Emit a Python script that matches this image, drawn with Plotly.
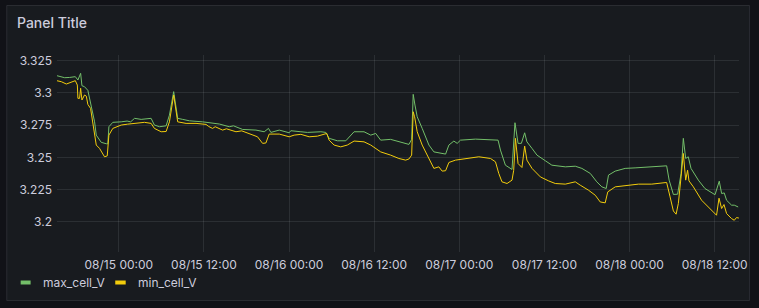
import plotly.graph_objects as go

# ---------------- data ----------------
max_t = [
    "2023-08-14 15:14", "2023-08-14 15:54", "2023-08-14 16:22", "2023-08-14 17:04", "2023-08-14 17:52",
    "2023-08-14 18:14", "2023-08-14 18:37", "2023-08-14 18:48", "2023-08-14 19:10", "2023-08-14 19:38",
    "2023-08-14 20:01", "2023-08-14 20:20", "2023-08-14 20:35", "2023-08-14 20:49", "2023-08-14 21:09",
    "2023-08-14 21:31", "2023-08-14 22:14", "2023-08-14 22:27", "2023-08-14 22:36", "2023-08-14 23:09",
    "2023-08-15 00:20", "2023-08-15 01:10", "2023-08-15 01:40", "2023-08-15 02:13", "2023-08-15 03:09",
    "2023-08-15 03:50", "2023-08-15 04:33", "2023-08-15 05:01", "2023-08-15 05:44", "2023-08-15 06:40",
    "2023-08-15 07:08", "2023-08-15 07:44", "2023-08-15 08:18", "2023-08-15 09:00", "2023-08-15 09:57",
    "2023-08-15 11:49", "2023-08-15 12:46", "2023-08-15 14:10", "2023-08-15 15:34", "2023-08-15 16:10",
    "2023-08-15 17:27", "2023-08-15 19:20", "2023-08-15 20:30", "2023-08-15 21:06", "2023-08-15 21:26",
    "2023-08-15 22:37", "2023-08-16 00:01", "2023-08-16 00:15", "2023-08-16 01:40", "2023-08-16 02:35",
    "2023-08-16 04:29", "2023-08-16 05:11", "2023-08-16 05:39", "2023-08-16 06:49", "2023-08-16 08:00",
    "2023-08-16 09:10", "2023-08-16 10:34", "2023-08-16 11:31", "2023-08-16 12:13", "2023-08-16 12:55",
    "2023-08-16 14:19", "2023-08-16 15:29", "2023-08-16 16:12", "2023-08-16 16:54", "2023-08-16 17:17",
    "2023-08-16 17:30", "2023-08-16 17:45", "2023-08-16 18:04", "2023-08-16 18:46", "2023-08-16 19:43",
    "2023-08-16 20:25", "2023-08-16 21:35", "2023-08-16 22:04", "2023-08-16 22:32", "2023-08-16 23:14",
    "2023-08-16 23:42", "2023-08-17 00:10", "2023-08-17 02:17", "2023-08-17 05:19", "2023-08-17 05:28",
    "2023-08-17 05:48", "2023-08-17 06:30", "2023-08-17 07:26", "2023-08-17 07:40", "2023-08-17 07:51",
    "2023-08-17 08:17", "2023-08-17 08:45", "2023-08-17 09:13", "2023-08-17 09:32", "2023-08-17 10:15",
    "2023-08-17 10:57", "2023-08-17 12:08", "2023-08-17 13:03", "2023-08-17 14:57", "2023-08-17 16:21",
    "2023-08-17 17:17", "2023-08-17 18:28", "2023-08-17 19:23", "2023-08-17 20:06", "2023-08-17 20:43",
    "2023-08-17 21:02", "2023-08-17 21:59", "2023-08-17 23:23", "2023-08-18 00:47", "2023-08-18 03:08",
    "2023-08-18 05:14", "2023-08-18 05:35", "2023-08-18 06:11", "2023-08-18 06:47", "2023-08-18 07:16",
    "2023-08-18 07:35", "2023-08-18 07:55", "2023-08-18 08:17", "2023-08-18 08:40", "2023-08-18 09:42",
    "2023-08-18 10:38", "2023-08-18 12:03", "2023-08-18 12:39", "2023-08-18 12:59", "2023-08-18 13:21",
    "2023-08-18 13:41", "2023-08-18 14:23", "2023-08-18 14:46", "2023-08-18 15:19",
]
max_v = [
    3.3134, 3.3125, 3.3118, 3.3120, 3.3126,
    3.3100, 3.3152, 3.3056, 3.3048, 3.3020,
    3.2930, 3.2854, 3.2776, 3.2673, 3.2648,
    3.2617, 3.2606, 3.2606, 3.2738, 3.2772,
    3.2776, 3.2782, 3.2776, 3.2803, 3.2795,
    3.2800, 3.2803, 3.2751, 3.2738, 3.2745,
    3.2828, 3.3010, 3.2803, 3.2795, 3.2784,
    3.2776, 3.2769, 3.2759, 3.2738, 3.2745,
    3.2717, 3.2712, 3.2699, 3.2725, 3.2694,
    3.2712, 3.2691, 3.2707, 3.2699, 3.2694,
    3.2699, 3.2694, 3.2648, 3.2629, 3.2629,
    3.2699, 3.2699, 3.2673, 3.2686, 3.2634,
    3.2640, 3.2621, 3.2613, 3.2601, 3.2640,
    3.2989, 3.2906, 3.2815, 3.2725, 3.2596,
    3.2543, 3.2531, 3.2526, 3.2596, 3.2627,
    3.2609, 3.2634, 3.2642, 3.2636, 3.2634,
    3.2557, 3.2440, 3.2407, 3.2582, 3.2769,
    3.2609, 3.2609, 3.2691, 3.2621, 3.2570,
    3.2518, 3.2474, 3.2440, 3.2427, 3.2432,
    3.2415, 3.2376, 3.2311, 3.2272, 3.2259,
    3.2363, 3.2394, 3.2415, 3.2419, 3.2427,
    3.2435, 3.2324, 3.2213, 3.2215, 3.2376,
    3.2648, 3.2492, 3.2505, 3.2415, 3.2324,
    3.2259, 3.2211, 3.2316, 3.2220, 3.2225,
    3.2168, 3.2130, 3.2130, 3.2116,
]

min_t = [
    "2023-08-14 15:14", "2023-08-14 15:54", "2023-08-14 16:36", "2023-08-14 17:04", "2023-08-14 17:52",
    "2023-08-14 18:09", "2023-08-14 18:14", "2023-08-14 18:28", "2023-08-14 18:37", "2023-08-14 18:48",
    "2023-08-14 19:10", "2023-08-14 19:25", "2023-08-14 19:38", "2023-08-14 20:01", "2023-08-14 20:20",
    "2023-08-14 20:35", "2023-08-14 20:49", "2023-08-14 21:17", "2023-08-14 21:36", "2023-08-14 21:59",
    "2023-08-14 22:22", "2023-08-14 22:36", "2023-08-14 23:09", "2023-08-15 00:20", "2023-08-15 01:15",
    "2023-08-15 02:13", "2023-08-15 03:37", "2023-08-15 04:33", "2023-08-15 05:01", "2023-08-15 05:58",
    "2023-08-15 06:40", "2023-08-15 07:08", "2023-08-15 07:44", "2023-08-15 08:18", "2023-08-15 09:29",
    "2023-08-15 10:53", "2023-08-15 12:18", "2023-08-15 12:40", "2023-08-15 13:13", "2023-08-15 13:35",
    "2023-08-15 14:38", "2023-08-15 15:10", "2023-08-15 16:31", "2023-08-15 17:20", "2023-08-15 18:23",
    "2023-08-15 19:33", "2023-08-15 20:16", "2023-08-15 20:44", "2023-08-15 21:12", "2023-08-15 22:37",
    "2023-08-16 00:01", "2023-08-16 00:43", "2023-08-16 01:40", "2023-08-16 02:50", "2023-08-16 04:00",
    "2023-08-16 05:19", "2023-08-16 05:39", "2023-08-16 06:21", "2023-08-16 07:17", "2023-08-16 08:13",
    "2023-08-16 09:10", "2023-08-16 10:34", "2023-08-16 11:31", "2023-08-16 12:55", "2023-08-16 14:19",
    "2023-08-16 15:29", "2023-08-16 16:26", "2023-08-16 16:54", "2023-08-16 17:17", "2023-08-16 17:30",
    "2023-08-16 17:42", "2023-08-16 18:04", "2023-08-16 18:46", "2023-08-16 19:43", "2023-08-16 20:25",
    "2023-08-16 21:07", "2023-08-16 21:35", "2023-08-16 22:04", "2023-08-16 22:32", "2023-08-16 23:28",
    "2023-08-17 00:52", "2023-08-17 02:45", "2023-08-17 04:24", "2023-08-17 05:06", "2023-08-17 05:34",
    "2023-08-17 06:01", "2023-08-17 06:44", "2023-08-17 07:26", "2023-08-17 07:40", "2023-08-17 07:55",
    "2023-08-17 08:17", "2023-08-17 08:50", "2023-08-17 09:13", "2023-08-17 09:32", "2023-08-17 10:15",
    "2023-08-17 11:26", "2023-08-17 12:36", "2023-08-17 13:32", "2023-08-17 14:57", "2023-08-17 16:21",
    "2023-08-17 17:03", "2023-08-17 18:13", "2023-08-17 19:10", "2023-08-17 19:52", "2023-08-17 20:34",
    "2023-08-17 20:56", "2023-08-17 21:59", "2023-08-17 23:23", "2023-08-18 01:15", "2023-08-18 03:08",
    "2023-08-18 05:14", "2023-08-18 05:43", "2023-08-18 06:11", "2023-08-18 06:34", "2023-08-18 06:53",
    "2023-08-18 07:16", "2023-08-18 07:35", "2023-08-18 07:55", "2023-08-18 08:11", "2023-08-18 08:23",
    "2023-08-18 09:00", "2023-08-18 10:10", "2023-08-18 11:34", "2023-08-18 12:16", "2023-08-18 12:37",
    "2023-08-18 12:59", "2023-08-18 13:19", "2023-08-18 13:41", "2023-08-18 14:23", "2023-08-18 14:46",
    "2023-08-18 15:05", "2023-08-18 15:25",
]
min_v = [
    3.3095, 3.3087, 3.3069, 3.3080, 3.3095,
    3.3061, 3.2958, 3.2958, 3.3036, 3.2945,
    3.2984, 3.2975, 3.2911, 3.2880, 3.2764,
    3.2673, 3.2596, 3.2570, 3.2539, 3.2505,
    3.2512, 3.2673, 3.2725, 3.2751, 3.2758,
    3.2764, 3.2772, 3.2764, 3.2725, 3.2699,
    3.2701, 3.2776, 3.2984, 3.2776, 3.2764,
    3.2764, 3.2756, 3.2740, 3.2725, 3.2738,
    3.2712, 3.2722, 3.2699, 3.2706, 3.2686,
    3.2660, 3.2609, 3.2612, 3.2681, 3.2681,
    3.2660, 3.2673, 3.2679, 3.2660, 3.2665,
    3.2686, 3.2634, 3.2596, 3.2582, 3.2596,
    3.2627, 3.2621, 3.2596, 3.2543, 3.2518,
    3.2492, 3.2479, 3.2488, 3.2518, 3.2854,
    3.2815, 3.2699, 3.2596, 3.2492, 3.2415,
    3.2427, 3.2394, 3.2397, 3.2461, 3.2479,
    3.2492, 3.2505, 3.2492, 3.2466, 3.2376,
    3.2311, 3.2298, 3.2324, 3.2400, 3.2648,
    3.2453, 3.2422, 3.2588, 3.2479, 3.2415,
    3.2349, 3.2318, 3.2298, 3.2293, 3.2311,
    3.2285, 3.2246, 3.2207, 3.2155, 3.2148,
    3.2233, 3.2272, 3.2280, 3.2293, 3.2293,
    3.2306, 3.2194, 3.2085, 3.2060, 3.2143,
    3.2349, 3.2531, 3.2324, 3.2401, 3.2318,
    3.2272, 3.2168, 3.2091, 3.2052, 3.2184,
    3.2104, 3.2135, 3.2065, 3.2026, 3.2013,
    3.2034, 3.2030,
]

y_ticks = [3.2, 3.225, 3.25, 3.275, 3.3, 3.325]
y_tick_text = ["3.2", "3.225", "3.25", "3.275", "3.3", "3.325"]
series_names = ["max_cell_V", "min_cell_V"]
series_colors = ["#73BF69", "#F2CC0C"]
title_text = "Panel Title"

# ---------------- figure ----------------
W, H = 759, 308
ML, MR, MT, MB = 57, 17, 55, 56
PW, PH = W - ML - MR, H - MT - MB

def px_x(p):
    return (p - ML) / PW

def px_y(p):
    return (H - MB - p) / PH

FONT = "Inter, Roboto, sans-serif"
TXT = "#ccccdc"
GRID = "rgba(240,250,255,0.09)"

fig = go.Figure()
fig.add_trace(go.Scatter(x=max_t, y=max_v, mode="lines", name=series_names[0],
                         line=dict(color=series_colors[0], width=1)))
fig.add_trace(go.Scatter(x=min_t, y=min_v, mode="lines", name=series_names[1],
                         line=dict(color=series_colors[1], width=1)))

fig.update_layout(
    width=W, height=H,
    margin=dict(l=ML, r=MR, t=MT, b=MB, pad=0),
    paper_bgcolor="#111217",
    plot_bgcolor="rgba(0,0,0,0)",
    showlegend=False,
    font=dict(family=FONT, size=12, color=TXT),
    xaxis=dict(
        range=["2023-08-14 15:17", "2023-08-18 15:26"],
        type="date",
        tickformat="%m/%d %H:%M",
        dtick=12 * 3600 * 1000,
        tick0="2023-08-15 00:00",
        showgrid=True, gridcolor=GRID, gridwidth=1,
        zeroline=False, showline=False, ticks="",
        tickfont=dict(family=FONT, size=12, color=TXT),
        ticklabelstandoff=4,
    ),
    yaxis=dict(
        range=[3.1767, 3.3294],
        tickvals=y_ticks, ticktext=y_tick_text,
        showgrid=True, gridcolor=GRID, gridwidth=1,
        zeroline=False, showline=False, ticks="",
        tickfont=dict(family=FONT, size=12, color=TXT),
        ticklabelstandoff=4,
    ),
)

# panel background
fig.add_shape(type="rect", xref="paper", yref="paper",
              x0=px_x(6.5), x1=px_x(752.5), y0=px_y(300.5), y1=px_y(5.5),
              fillcolor="#181b1f", line=dict(color="rgba(204,204,220,0.12)", width=1),
              layer="below")

# title
fig.add_annotation(xref="paper", yref="paper", x=px_x(15), y=px_y(22),
                   xanchor="left", yanchor="middle", showarrow=False,
                   text=title_text, font=dict(family=FONT, size=14, color=TXT, weight=500))

# legend (custom, Grafana style)
leg_y = px_y(282.5)
swatches = [(19, 32, 41), (114, 127.5, 136)]
for (sx0, sx1, tx), name, col in zip(swatches, series_names, series_colors):
    fig.add_shape(type="line", xref="paper", yref="paper",
                  x0=px_x(sx0 + 1.5), x1=px_x(sx1 - 1.5), y0=leg_y, y1=leg_y,
                  line=dict(color=col, width=4))
    fig.add_annotation(xref="paper", yref="paper", x=px_x(tx), y=leg_y,
                       xanchor="left", yanchor="middle", showarrow=False,
                       text=name, font=dict(family=FONT, size=12, color=TXT))

fig.write_html("out.html")
